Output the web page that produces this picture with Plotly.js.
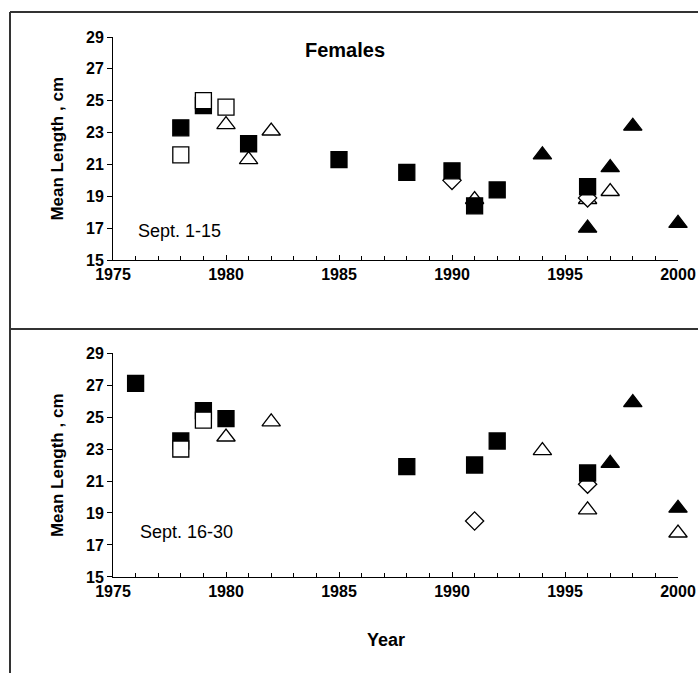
<!DOCTYPE html>
<html>
<head>
<meta charset="utf-8">
<script src="https://cdn.plot.ly/plotly-3.0.1.min.js"></script>
<style>html,body{margin:0;padding:0;background:#fff;}#chart{width:698px;height:673px;}</style>
</head>
<body>
<div id="chart"></div>
<script>
// ---- Data: Sept. 1-15 (top panel) ----
var filledSquareX1 = [1978, 1979, 1981, 1985, 1988, 1990, 1991, 1992, 1996];
var filledSquareY1 = [23.3, 24.7, 22.3, 21.3, 20.5, 20.6, 18.4, 19.4, 19.6];
var openSquareX1 = [1978, 1979, 1980];
var openSquareY1 = [21.6, 25.0, 24.6];
var openTriX1 = [1980, 1981, 1982, 1991, 1996, 1997];
var openTriY1 = [23.5, 21.3, 23.1, 18.8, 18.8, 19.3];
var openDiaX1 = [1990, 1996];
var openDiaY1 = [20.0, 18.9];
var filledTriX1 = [1994, 1996, 1997, 1998, 2000];
var filledTriY1 = [21.6, 17.0, 20.8, 23.4, 17.3];

// ---- Data: Sept. 16-30 (bottom panel) ----
var filledSquareX2 = [1976, 1978, 1979, 1980, 1988, 1991, 1992, 1996];
var filledSquareY2 = [27.1, 23.5, 25.4, 24.9, 21.9, 22.0, 23.5, 21.5];
var openSquareX2 = [1978, 1979];
var openSquareY2 = [23.0, 24.8];
var openTriX2 = [1980, 1982, 1994, 1996, 2000];
var openTriY2 = [23.75, 24.7, 22.9, 19.2, 17.75];
var openDiaX2 = [1991, 1996];
var openDiaY2 = [18.5, 20.8];
var filledTriX2 = [1997, 1998, 2000];
var filledTriY2 = [22.1, 25.9, 19.3];

var yTickVals = [15, 17, 19, 21, 23, 25, 27, 29];
var xTickVals = [1975, 1980, 1985, 1990, 1995, 2000];
var chartTitle = "Females";
var yTitle = "Mean Length , cm";
var xTitle = "Year";
var panelLabels = ["Sept. 1-15", "Sept. 16-30"];

var boldFam = "Liberation Sans Narrow, Arial Narrow, Liberation Sans, Arial";
var tickFont = {family: boldFam, size: 16, color: "#000", weight: "bold"};

function mk(x, y, xa, ya, symbol, fill, size) {
  return {
    x: x, y: y, xaxis: xa, yaxis: ya, type: "scatter", mode: "markers",
    cliponaxis: false, showlegend: false, hoverinfo: "x+y",
    marker: {symbol: symbol, size: size, color: fill, line: {color: "#000", width: 1.3}}
  };
}

var traces = [];
[["x","y",openTriX1,openTriY1,openDiaX1,openDiaY1,filledTriX1,filledTriY1,filledSquareX1,filledSquareY1,openSquareX1,openSquareY1],
 ["x2","y2",openTriX2,openTriY2,openDiaX2,openDiaY2,filledTriX2,filledTriY2,filledSquareX2,filledSquareY2,openSquareX2,openSquareY2]
].forEach(function (p) {
  traces.push(mk(p[2], p[3], p[0], p[1], "triangle-up", "#fff", 16));
  traces.push(mk(p[4], p[5], p[0], p[1], "diamond", "#fff", 14));
  traces.push(mk(p[6], p[7], p[0], p[1], "triangle-up", "#000", 16));
  traces.push(mk(p[8], p[9], p[0], p[1], "square", "#000", 16));
  traces.push(mk(p[10], p[11], p[0], p[1], "square", "#fff", 16));
});

function xAxis(anchor, showLabels, ticks, overlay) {
  var a = {
    range: [1975, 2000], anchor: anchor, domain: [0, 1],
    showgrid: false, zeroline: false, showline: true, linecolor: "#000", linewidth: 1,
    tickvals: xTickVals, ticks: ticks, ticklen: 5, tickwidth: 1, tickcolor: "#000",
    showticklabels: showLabels, tickfont: tickFont, fixedrange: true
  };
  if (ticks === "inside") {
    a.minor = {dtick: 1, tick0: 1975, ticks: "inside", ticklen: 4, tickcolor: "#000", tickwidth: 1, showgrid: false};
  }
  if (overlay) a.overlaying = overlay;
  return a;
}

function yAxis(anchor, domain) {
  return {
    range: [15, 29], anchor: anchor, domain: domain,
    showgrid: false, zeroline: false, showline: true, linecolor: "#000", linewidth: 1,
    tickvals: yTickVals, ticks: "outside", ticklen: 5, tickwidth: 1, tickcolor: "#000",
    tickfont: tickFont, fixedrange: true, ticksuffix: "\u00a0\u00a0"
  };
}

var titleFont = {family: boldFam, size: 17, weight: "bold", color: "#000"};
var lineStyle = {color: "#333", width: 2};
var layout = {
  width: 698, height: 673,
  margin: {l: 113, r: 20, t: 37, b: 96},
  paper_bgcolor: "#fff", plot_bgcolor: "#fff",
  showlegend: false,
  xaxis: xAxis("y", true, "inside"),
  xaxis3: xAxis("y", false, "outside", "x"),
  xaxis2: xAxis("y2", true, "inside"),
  xaxis4: xAxis("y2", false, "outside", "x2"),
  yaxis: yAxis("x", [0.587, 1]),
  yaxis2: yAxis("x2", [0, 0.4148]),
  annotations: [
    {text: chartTitle, xref: "paper", yref: "paper", x: 0.41, y: 0.9995, showarrow: false,
     font: {family: "Liberation Sans, Arial", size: 20, weight: "bold", color: "#000"}},
    {text: panelLabels[0], xref: "x", yref: "y", x: 1976, y: 16.85, xanchor: "left", showarrow: false,
     font: {family: "Liberation Sans Narrow, Arial Narrow, Liberation Sans", size: 18, color: "#000"}},
    {text: panelLabels[1], xref: "x2", yref: "y2", x: 1976.1, y: 17.8, xanchor: "left", showarrow: false,
     font: {family: "Liberation Sans Narrow, Arial Narrow, Liberation Sans", size: 18, color: "#000"}},
    {text: yTitle, xref: "paper", yref: "y", x: -0.099, y: 22, xanchor: "center", yanchor: "middle",
     textangle: -90, showarrow: false, font: titleFont},
    {text: yTitle, xref: "paper", yref: "y2", x: -0.099, y: 22, xanchor: "center", yanchor: "middle",
     textangle: -90, showarrow: false, font: titleFont},
    {text: xTitle, xref: "x2", yref: "paper", x: 1987.1, y: -0.1167, xanchor: "center", yanchor: "middle",
     showarrow: false, font: {family: boldFam, size: 18, weight: "bold", color: "#000"}}
  ],
  shapes: [
    {type: "line", xref: "paper", yref: "paper", x0: -0.1823, x1: 1.05, y0: 1.0463, y1: 1.0463, line: lineStyle},
    {type: "line", xref: "paper", yref: "paper", x0: -0.1823, x1: 1.05, y0: 0.4593, y1: 0.4593, line: lineStyle},
    {type: "line", xref: "paper", yref: "paper", x0: -0.1823, x1: -0.1823, y0: 1.0463, y1: -0.19, line: lineStyle}
  ]
};

Plotly.newPlot("chart", traces, layout, {displayModeBar: false, staticPlot: true});
</script>
</body>
</html>
